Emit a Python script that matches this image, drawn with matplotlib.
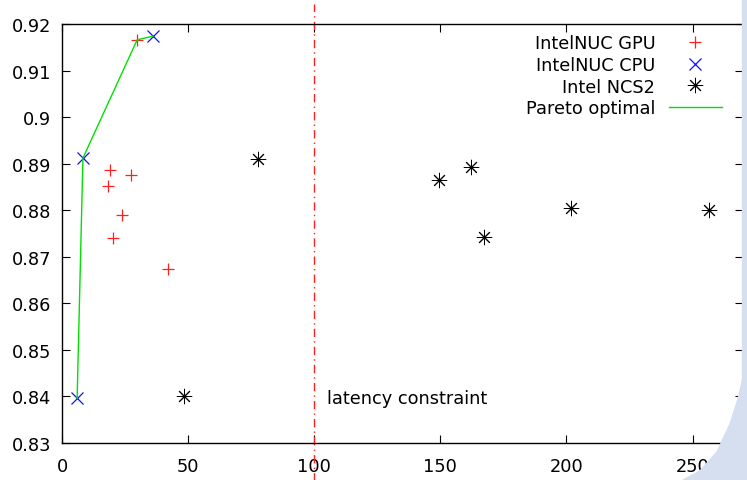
import matplotlib
matplotlib.use("Agg")
import matplotlib.pyplot as plt
from matplotlib.patches import Polygon, Rectangle
from matplotlib.ticker import FuncFormatter

# latency (ms) vs accuracy
gpu_lat = [29.8, 19.0, 18.3, 27.4, 23.8, 20.2, 42.1]
gpu_acc = [0.9166, 0.8886, 0.8852, 0.8876, 0.8790, 0.8741, 0.8673]

cpu_lat = [6.0, 8.3, 36.1]
cpu_acc = [0.8396, 0.8912, 0.9174]

ncs_lat = [77.8, 48.4, 149.6, 162.3, 167.5, 202.0, 256.7]
ncs_acc = [0.8911, 0.8400, 0.8865, 0.8893, 0.8742, 0.8804, 0.8800]

pareto_lat = [6.0, 8.3, 29.8, 36.1]
pareto_acc = [0.8396, 0.8912, 0.9166, 0.9174]

constraint = 100

plt.rcParams['font.family'] = ['DejaVu Sans']
fs = 12.8
fig = plt.figure(figsize=(7.47, 4.81), dpi=100)

# slide background bits (light blue)
bg = '#d5dff0'
fig.patches.append(Rectangle((742/747, 0), 5/747, 1, transform=fig.transFigure,
                             color=bg, zorder=0))
curve = [(683, 481), (700, 472), (717, 453), (730, 425), (738, 400), (742, 383),
         (747, 360), (747, 481)]
fig.patches.append(Polygon([(x/747, 1 - y/481) for x, y in curve], closed=True,
                           transform=fig.transFigure, color=bg, zorder=0))

ax = fig.add_axes([62/747, 37/481, 681/747, 419/481])
ax.set_facecolor('none')

ax.plot(gpu_lat, gpu_acc, '+', color='#ff2020', ms=9, mew=0.9, label='IntelNUC GPU')
ax.plot(cpu_lat, cpu_acc, 'x', color='#1010ff', ms=9, mew=0.9, label='IntelNUC CPU')
ax.plot(ncs_lat, ncs_acc, ls='none', marker=(8, 2, 0), color='black', ms=11, mew=0.7,
        label='Intel NCS2')
ax.plot(pareto_lat, pareto_acc, '-', color='#00e000', lw=1.0, label='Pareto optimal')

ax.axvline(constraint, ymin=-0.2, ymax=1.048, color='#ff2020', lw=1.0,
           ls=(0, (6, 3, 1, 3)), clip_on=False)
ax.text(105, 0.8397, 'latency constraint', fontsize=fs, va='center', ha='left')

ax.set_xlim(0, 270)
ax.set_ylim(0.83, 0.92)
ax.set_xticks([0, 50, 100, 150, 200, 250])
ax.set_yticks([0.83, 0.84, 0.85, 0.86, 0.87, 0.88, 0.89, 0.90, 0.91, 0.92])
ax.yaxis.set_major_formatter(FuncFormatter(lambda v, p: '%g' % round(v, 2)))
ax.tick_params(direction='in', length=6, width=0.8, top=True, right=True,
               labelsize=fs)
ax.tick_params(axis='x', pad=10)
ax.tick_params(axis='y', pad=8)
for s in ax.spines.values():
    s.set_linewidth(1.0)

ax.legend(loc='upper right', bbox_to_anchor=(0.969, 0.975), frameon=False,
          markerfirst=False, fontsize=fs, handlelength=3.0, handletextpad=0.75,
          labelspacing=0.2, borderaxespad=0, borderpad=0)

fig.savefig('out.png', dpi=100)
